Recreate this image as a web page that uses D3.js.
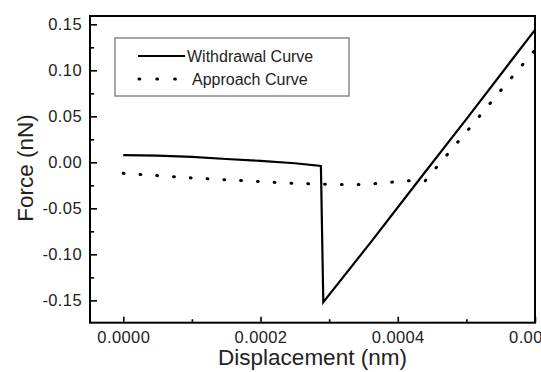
<!DOCTYPE html>
<html>
<head>
<meta charset="utf-8">
<script src="https://cdn.jsdelivr.net/npm/d3@7"></script>
<style>
  html, body { margin: 0; padding: 0; background: #fff; }
  svg { display: block; font-family: "Liberation Sans", Arial, sans-serif; }
</style>
</head>
<body>
<svg id="chart" width="541" height="372"></svg>
<script>
// Force–displacement curves (AFM style)
const withdrawalX = [0, 0.00005, 0.0001, 0.00015, 0.0002, 0.00025, 0.000288, 0.0002915, 0.00036, 0.00043, 0.0005, 0.0006];
const withdrawalY = [0.0078, 0.0072, 0.0060, 0.0036, 0.0016, -0.0010, -0.0040, -0.152, -0.0875, -0.020, 0.047, 0.144];

const approachX = [0, 0.00005, 0.0001, 0.00015, 0.0002, 0.00025, 0.0003, 0.00035, 0.00038, 0.00041, 0.00044, 0.0005, 0.00055, 0.0006];
const approachY = [-0.012, -0.0145, -0.017, -0.019, -0.021, -0.023, -0.024, -0.024, -0.0225, -0.020, -0.020, 0.033, 0.078, 0.122];

const xTickValues = [0, 0.0002, 0.0004, 0.0006];
const xTickLabels = ["0.0000", "0.0002", "0.0004", "0.0006"];
const xMinorValues = [0.0001, 0.0003, 0.0005];
const yTickValues = [-0.15, -0.10, -0.05, 0.00, 0.05, 0.10, 0.15];
const yTickLabels = ["-0.15", "-0.10", "-0.05", "0.00", "0.05", "0.10", "0.15"];
const yMinorValues = [-0.125, -0.075, -0.025, 0.025, 0.075, 0.125];

const seriesNames = ["Withdrawal Curve", "Approach Curve"];

const svg = d3.select("#chart");
const plotLeft = 90, plotRight = 535, plotTop = 16, plotBottom = 322.7;

const x = d3.scaleLinear().domain([-0.0000485, 0.0006]).range([plotLeft, plotRight]);
const y = d3.scaleLinear().domain([-0.1743, 0.159]).range([plotBottom, plotTop]);

const tickColor = "#000";
const labelColor = "#222";

// Y axis: major ticks with labels, minor ticks without, all pointing inward
const yAxis = d3.axisLeft(y)
  .tickValues(yTickValues)
  .tickFormat((d, i) => yTickLabels[i])
  .tickSize(-7)
  .tickPadding(8);
const gy = svg.append("g").attr("transform", `translate(${plotLeft},0)`).call(yAxis);
gy.select(".domain").remove();
gy.selectAll("line").attr("stroke", tickColor).attr("stroke-width", 1.6);
gy.selectAll("text").attr("font-size", 16.5).attr("letter-spacing", 0.4).attr("fill", labelColor)
  .attr("font-family", "Liberation Sans, Arial, sans-serif");

const gyMinor = svg.append("g").attr("transform", `translate(${plotLeft},0)`)
  .call(d3.axisLeft(y).tickValues(yMinorValues).tickFormat("").tickSize(-4));
gyMinor.select(".domain").remove();
gyMinor.selectAll("line").attr("stroke", tickColor).attr("stroke-width", 1.6);

// X axis
const xAxis = d3.axisBottom(x)
  .tickValues(xTickValues)
  .tickFormat((d, i) => xTickLabels[i])
  .tickSize(-6)
  .tickPadding(9);
const gx = svg.append("g").attr("transform", `translate(0,${plotBottom})`).call(xAxis);
gx.select(".domain").remove();
gx.selectAll("line").attr("stroke", tickColor).attr("stroke-width", 1.6);
gx.selectAll("text").attr("font-size", 16.5).attr("letter-spacing", 0.4).attr("fill", labelColor)
  .attr("font-family", "Liberation Sans, Arial, sans-serif");

const gxMinor = svg.append("g").attr("transform", `translate(0,${plotBottom})`)
  .call(d3.axisBottom(x).tickValues(xMinorValues).tickFormat("").tickSize(-3.5));
gxMinor.select(".domain").remove();
gxMinor.selectAll("line").attr("stroke", tickColor).attr("stroke-width", 1.6);

// Plot frame
svg.append("rect")
  .attr("x", plotLeft).attr("y", plotTop)
  .attr("width", plotRight - plotLeft).attr("height", plotBottom - plotTop)
  .attr("fill", "none").attr("stroke", "#000").attr("stroke-width", 2);

// Curves
const line = d3.line().x(d => x(d[0])).y(d => y(d[1]));
const withdrawal = withdrawalX.map((v, i) => [v, withdrawalY[i]]);
const approach = approachX.map((v, i) => [v, approachY[i]]);

svg.append("path").datum(approach)
  .attr("d", line)
  .attr("fill", "none").attr("stroke", "#000")
  .attr("stroke-width", 3)
  .attr("stroke-linecap", "round")
  .attr("stroke-dasharray", "0.8,16");

svg.append("path").datum(withdrawal)
  .attr("d", line)
  .attr("fill", "none").attr("stroke", "#000")
  .attr("stroke-width", 2.2)
  .attr("stroke-linejoin", "miter");

// Axis titles
svg.append("text")
  .attr("x", (plotLeft + plotRight) / 2).attr("y", 365)
  .attr("text-anchor", "middle")
  .attr("font-size", 22.5).attr("fill", labelColor)
  .text("Displacement (nm)");

svg.append("text")
  .attr("transform", `translate(33,168) rotate(-90)`)
  .attr("text-anchor", "middle")
  .attr("font-size", 22.5).attr("fill", labelColor)
  .text("Force (nN)");

// Legend
const legend = svg.append("g");
legend.append("rect")
  .attr("x", 115).attr("y", 38).attr("width", 234).attr("height", 58)
  .attr("fill", "#fff").attr("stroke", "#777").attr("stroke-width", 1.3);

legend.append("line")
  .attr("x1", 138).attr("x2", 185).attr("y1", 56).attr("y2", 56)
  .attr("stroke", "#000").attr("stroke-width", 2.2);
legend.append("line")
  .attr("x1", 139).attr("x2", 185).attr("y1", 79).attr("y2", 79)
  .attr("stroke", "#000").attr("stroke-width", 3)
  .attr("stroke-linecap", "round").attr("stroke-dasharray", "0.8,17");

legend.append("text").attr("x", 187).attr("y", 62)
  .attr("font-size", 16).attr("fill", labelColor).text(seriesNames[0]);
legend.append("text").attr("x", 192).attr("y", 85)
  .attr("font-size", 16).attr("fill", labelColor).text(seriesNames[1]);
</script>
</body>
</html>
